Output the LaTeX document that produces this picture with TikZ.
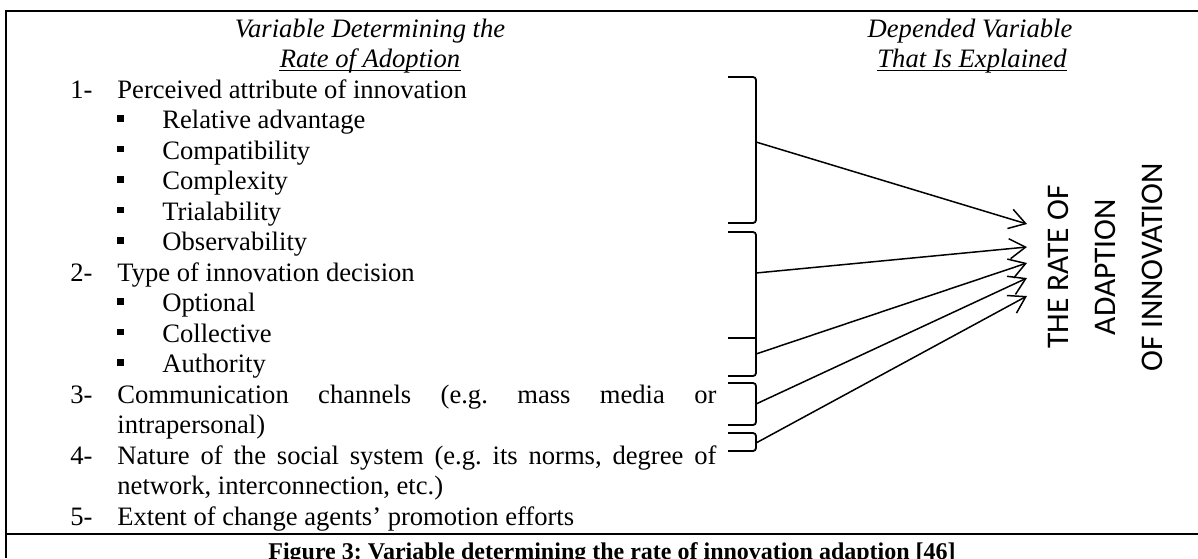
\documentclass[tikz,border=0pt]{standalone}
\usepackage{fontspec}
\setmainfont{Liberation Serif}
\newfontfamily\calfont{Carlito}
\usetikzlibrary{arrows.meta}
\frenchspacing
\begin{document}
\begin{tikzpicture}[x=0.5pt,y=-0.5pt,
  txt/.style={anchor=base west,inner sep=0pt,font=\fontsize{13.3}{16}\selectfont},
  ttl/.style={anchor=base,inner sep=0pt,font=\fontsize{13.3}{16}\selectfont\itshape},
  bsq/.style={rectangle,fill=black,draw=none,minimum size=3.25pt,inner sep=0pt},
  frameline/.style={line width=1pt},
  brk/.style={line width=0.9pt,rounded corners=1.5pt},
  arr/.style={line width=0.75pt,-{Straight Barb[length=8pt,width=10pt]}},
  rot/.style={rotate=90,inner sep=0pt,font=\calfont\fontsize{15.75}{18}\selectfont},
  uline/.style={line width=0.6pt}
]
\useasboundingbox (0,0) rectangle (1198,558);
% frame
\draw[frameline] (5.5,558) -- (5.5,11) -- (1198,11);
\draw[frameline] (5,533.5) -- (1198,533.5);
% titles
\node[ttl] (t1) at (370,37) {Variable Determining the};
\node[ttl] (t2) at (370,67.5) {Rate of Adoption};
\draw[uline] ([yshift=-1.5pt]t2.base west) -- ([yshift=-1.5pt]t2.base east);
\node[ttl] (t3) at (970,37) {Depended Variable};
\node[ttl] (t4) at (972,67.5) {That Is Explained};
\draw[uline] ([yshift=-1.5pt]t4.base west) -- ([yshift=-1.5pt]t4.base east);
% item 1
\node[txt] (k1) at (70,98) {1-};
\node[txt] (i1) at (117,98) {Perceived attribute of innovation};
\node[bsq] (b1a) at (120.5,118.5) {};
\node[txt] (i1a) at (162,128.5) {Relative advantage};
\node[bsq] (b1b) at (120.5,149) {};
\node[txt] (i1b) at (162,159) {Compatibility};
\node[bsq] (b1c) at (120.5,179.5) {};
\node[txt] (i1c) at (162,189.5) {Complexity};
\node[bsq] (b1d) at (120.5,210) {};
\node[txt] (i1d) at (162,220) {Trialability};
\node[bsq] (b1e) at (120.5,240.5) {};
\node[txt] (i1e) at (162,250.5) {Observability};
% item 2
\node[txt] (k2) at (70,281) {2-};
\node[txt] (i2) at (117,281) {Type of innovation decision};
\node[bsq] (b2a) at (120.5,301.5) {};
\node[txt] (i2a) at (162,311.5) {Optional};
\node[bsq] (b2b) at (120.5,332) {};
\node[txt] (i2b) at (162,342) {Collective};
\node[bsq] (b2c) at (120.5,362.5) {};
\node[txt] (i2c) at (162,372.5) {Authority};
% item 3
\node[txt] (k3) at (70,403) {3-};
\node[txt] (i3) at (117,403) {\makebox[299.5pt][s]{Communication channels (e.g. mass media or}};
\node[txt] (i3b) at (117,433.5) {intrapersonal)};
% item 4
\node[txt] (k4) at (70,464) {4-};
\node[txt] (i4) at (117,464) {\makebox[299.5pt][s]{Nature of the social system (e.g. its norms, degree of}};
\node[txt] (i4b) at (117,494.5) {network, interconnection, etc.)};
% item 5
\node[txt] (k5) at (70,525) {5-};
\node[txt] (i5) at (117,525) {Extent of change agents’ promotion efforts};
% brackets
\draw[brk] (728,77) -- (756,77) -- (756,223) -- (728,223);
\draw[brk] (728,232) -- (756,232) -- (756,376) -- (728,376);
\draw[brk] (728,338) -- (756,338);
\draw[brk] (728,383) -- (756,383) -- (756,425) -- (728,425);
\draw[brk] (728,433) -- (756,433) -- (756,451) -- (728,451);
% bracket anchor points
\coordinate (sA) at (756,142);
\coordinate (sB) at (756,273);
\coordinate (sC) at (756,354);
\coordinate (sD) at (756,404);
\coordinate (sE) at (756,443);
% target text
\node[rot] (r1) at (1058,267) {THE RATE OF};
\node[rot] (r2) at (1105,267) {ADAPTION};
\node[rot] (r3) at (1152,267) {OF INNOVATION};
\coordinate (tA) at (1027,224);
\coordinate (tB) at (1027,247);
\coordinate (tC) at (1027,263);
\coordinate (tD) at (1027,278);
\coordinate (tE) at (1027,296);
\draw[arr] (sA) -- (tA);
\draw[arr] (sB) -- (tB);
\draw[arr] (sC) -- (tC);
\draw[arr] (sD) -- (tD);
\draw[arr] (sE) -- (tE);
% caption
\node[anchor=base,inner sep=0pt,font=\bfseries\fontsize{12}{14}\selectfont] (cap) at (612,559) {Figure 3: Variable determining the rate of innovation adaption [46]};
\end{tikzpicture}
\end{document}
